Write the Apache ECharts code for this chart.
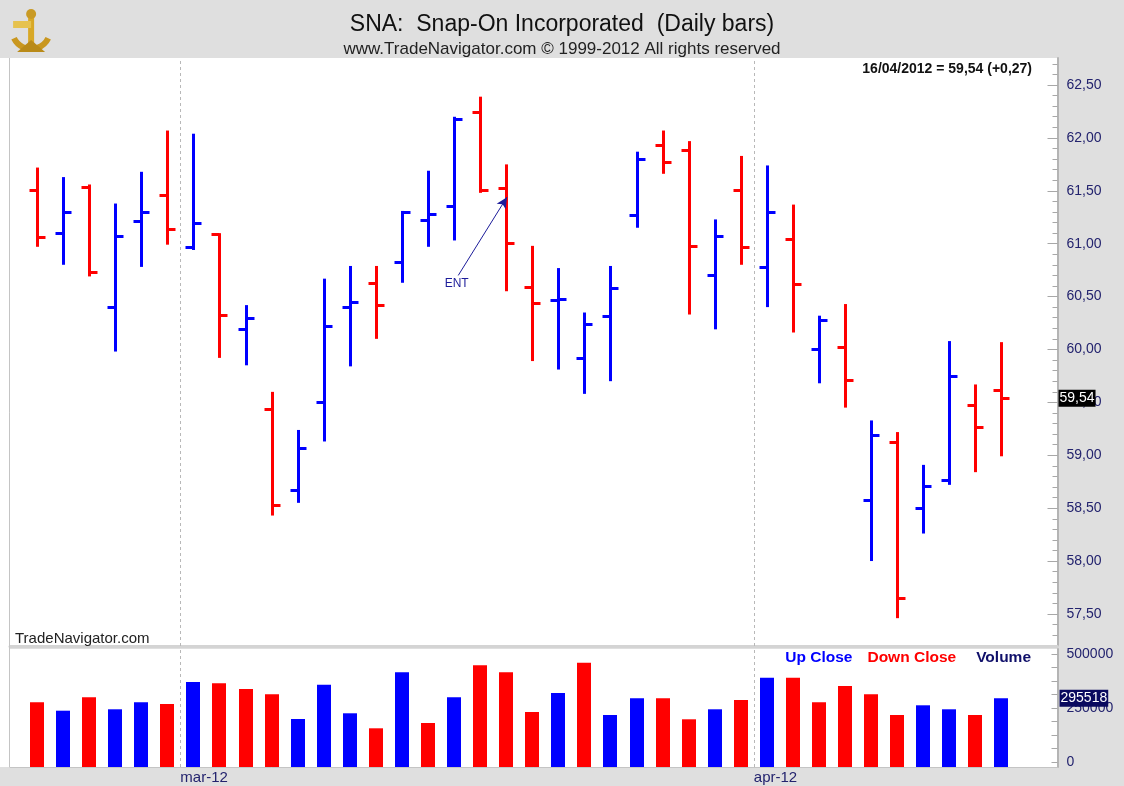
<!DOCTYPE html>
<html>
<head>
<meta charset="utf-8">
<title>SNA Daily bars</title>
<script src="https://cdn.jsdelivr.net/npm/echarts@6/dist/echarts.min.js"></script>
<style>
  html, body { margin: 0; padding: 0; background: #dfdfdf; }
  #chart { width: 1124px; height: 786px; }
</style>
</head>
<body>
<div id="chart"></div>
<script>
// trading days on the chart
const dates = [
  '22/02/2012', '23/02/2012', '24/02/2012', '27/02/2012', '28/02/2012', '29/02/2012',
  '01/03/2012', '02/03/2012', '05/03/2012', '06/03/2012', '07/03/2012', '08/03/2012', '09/03/2012',
  '12/03/2012', '13/03/2012', '14/03/2012', '15/03/2012', '16/03/2012',
  '19/03/2012', '20/03/2012', '21/03/2012', '22/03/2012', '23/03/2012',
  '26/03/2012', '27/03/2012', '28/03/2012', '29/03/2012', '30/03/2012',
  '02/04/2012', '03/04/2012', '04/04/2012', '05/04/2012',
  '09/04/2012', '10/04/2012', '11/04/2012', '12/04/2012', '13/04/2012', '16/04/2012'
];
const openPrices = [
  61.51, 61.10, 61.54, 60.40, 61.21, 61.46,
  60.97, 61.09, 60.19, 59.44, 58.67, 59.50, 60.40,
  60.63, 60.83, 61.22, 61.36, 62.24,
  61.53, 60.59, 60.47, 59.92, 60.32,
  61.27, 61.93, 61.89, 60.70, 61.51,
  60.78, 61.04, 60.00, 60.02,
  58.58, 59.13, 58.50, 58.77, 59.48, 59.62
];
const highPrices = [
  61.71, 61.62, 61.55, 61.37, 61.67, 62.06,
  62.03, 61.09, 60.41, 59.59, 59.23, 60.66, 60.78,
  60.78, 61.30, 61.68, 62.19, 62.38,
  61.74, 60.97, 60.76, 60.34, 60.78,
  61.86, 62.06, 61.96, 61.22, 61.82,
  61.73, 61.36, 60.31, 60.42,
  59.32, 59.21, 58.90, 60.07, 59.66, 60.06
];
const lowPrices = [
  60.98, 60.81, 60.70, 59.99, 60.79, 61.00,
  60.95, 59.93, 59.86, 58.44, 58.56, 59.14, 59.85,
  60.11, 60.64, 60.98, 61.04, 61.49,
  60.56, 59.90, 59.82, 59.59, 59.71,
  61.16, 61.67, 60.34, 60.20, 60.81,
  60.41, 60.17, 59.69, 59.46,
  58.01, 57.47, 58.27, 58.73, 58.85, 59.00
];
const closePrices = [
  61.06, 61.30, 60.73, 61.07, 61.30, 61.14,
  61.20, 60.33, 60.30, 58.53, 59.07, 60.22, 60.45,
  60.42, 61.30, 61.28, 62.18, 61.51,
  61.01, 60.44, 60.48, 60.24, 60.58,
  61.80, 61.77, 60.98, 61.07, 60.97,
  61.30, 60.62, 60.28, 59.71,
  59.19, 57.65, 58.71, 59.75, 59.27, 59.54
];
const volumes = [
  276400, 237500, 299500, 244000, 276400, 268500,
  370400, 364300, 338000, 313400, 199100, 357900, 225500,
  156000, 415300, 180600, 299500, 447700,
  415300, 231500, 319400, 459700, 217600,
  294900, 294900, 197700, 244000, 287000,
  390300, 390300, 276400, 351900,
  313400, 217600, 262500, 244000, 217600, 295518
];
const priceTicks = [57.5, 58.0, 58.5, 59.0, 59.5, 60.0, 60.5, 61.0, 61.5, 62.0, 62.5];
const volumeTicks = [0, 250000, 500000];
const monthNames = ['jan', 'feb', 'mar', 'apr', 'may', 'jun', 'jul', 'aug', 'sep', 'oct', 'nov', 'dec'];
// annotation "ENT" arrow (bar index, price)
const entFrom = [16.16, 60.70];
const entTo = [18.03, 61.44];

const UP = '#0000ff';
const DOWN = '#ff0000';
const NAVY = '#23236e';
const FONT = 'Liberation Sans, Arial, sans-serif';

const last = dates.length - 1;
const fmt2 = v => v.toFixed(2).replace('.', ',');

// month boundaries sit halfway between the last bar of a month and the first of the next
const monthStarts = [];
const monthLabels = [];
for (let i = 1; i < dates.length; i++) {
  const m0 = dates[i - 1].split('/')[1];
  const m1 = dates[i].split('/')[1];
  if (m0 !== m1) {
    const parts = dates[i].split('/');
    monthStarts.push(i - 0.5);
    monthLabels.push(monthNames[+parts[1] - 1] + '-' + parts[2].slice(2));
  }
}

const ohlcData = dates.map((d, i) => [i, openPrices[i], highPrices[i], lowPrices[i], closePrices[i]]);
const volData = volumes.map((v, i) => {
  const ref = i === 0 ? openPrices[0] : closePrices[i - 1];
  return [i, v, closePrices[i] >= ref ? 1 : -1];
});

const minorPriceTicks = [];
for (let k = 573; k <= 627; k++) minorPriceTicks.push(k / 10);
const volMinorTicks = [];
for (let k = 0; k <= 8; k++) volMinorTicks.push(k * 62500);

const xMin = -1.036;
const xMax = 39.15;
const priceMin = 57.1975;
const priceMax = 62.755;
const volMin = -23150;
const volMax = 523100;

const change = closePrices[last] - closePrices[last - 1];
const headerText = dates[last] + ' = ' + fmt2(closePrices[last]) + ' (' + (change >= 0 ? '+' : '') + fmt2(change) + ')';

function renderOhlc(params, api) {
  const i = api.value(0);
  const o = api.coord([i, api.value(1)]);
  const h = api.coord([i, api.value(2)]);
  const l = api.coord([i, api.value(3)]);
  const c = api.coord([i, api.value(4)]);
  const color = api.value(4) >= api.value(1) ? UP : DOWN;
  const x = Math.round(h[0]) + 0.5;
  const st = { stroke: color, lineWidth: 3 };
  return {
    type: 'group',
    children: [
      { type: 'line', shape: { x1: x, y1: h[1] - 1, x2: x, y2: l[1] + 1 }, style: st },
      { type: 'line', shape: { x1: x - 8, y1: Math.round(o[1]) + 0.5, x2: x, y2: Math.round(o[1]) + 0.5 }, style: st },
      { type: 'line', shape: { x1: x, y1: Math.round(c[1]) + 0.5, x2: x + 8, y2: Math.round(c[1]) + 0.5 }, style: st }
    ]
  };
}

function renderVolume(params, api) {
  const i = api.value(0);
  const top = api.coord([i, api.value(1)]);
  const bottom = api.coord([i, volMin]);
  const w = 14;
  return {
    type: 'rect',
    shape: { x: Math.round(top[0] - w / 2), y: top[1], width: w, height: bottom[1] - top[1] },
    style: { fill: api.value(2) > 0 ? UP : DOWN }
  };
}

const monthLine = {
  silent: true,
  symbol: 'none',
  label: { show: false },
  lineStyle: { color: '#b8b8b8', type: [3, 3], width: 1 },
  data: monthStarts.map(v => ({ xAxis: v }))
};

const noLine = { show: false, onZero: false };

const chart = echarts.init(document.getElementById('chart'));
chart.setOption({
  animation: false,
  backgroundColor: '#dfdfdf',
  textStyle: { fontFamily: FONT },
  title: [
    {
      text: 'SNA:  Snap-On Incorporated  (Daily bars)',
      subtext: 'www.TradeNavigator.com © 1999-2012 All rights reserved',
      left: 'center',
      top: 8,
      itemGap: 5,
      textStyle: { fontFamily: FONT, fontSize: 23, fontWeight: 'normal', color: '#111' },
      subtextStyle: { fontFamily: FONT, fontSize: 17, color: '#222' }
    },
    {
      text: headerText,
      right: 87,
      top: 57,
      textStyle: { fontFamily: FONT, fontSize: 14, fontWeight: 'bold', color: '#111' }
    },
    {
      text: 'TradeNavigator.com',
      left: 10,
      top: 626,
      textStyle: { fontFamily: FONT, fontSize: 15, fontWeight: 'normal', color: '#222' }
    },
    {
      text: '{u|Up Close}   {d|Down Close}    {v|Volume}',
      right: 88,
      top: 644,
      textStyle: {
        fontFamily: FONT,
        rich: {
          u: { fontFamily: FONT, fontSize: 15.5, fontWeight: 'bold', color: UP },
          d: { fontFamily: FONT, fontSize: 15.5, fontWeight: 'bold', color: DOWN },
          v: { fontFamily: FONT, fontSize: 15.5, fontWeight: 'bold', color: '#10106a' }
        }
      }
    }
  ],
  graphic: [
    { type: 'rect', left: 0, top: 58, shape: { width: 9, height: 709 }, style: { fill: '#ffffff' }, z: 0 },
    { type: 'line', shape: { x1: 9.5, y1: 58, x2: 9.5, y2: 767 }, style: { stroke: '#c4c4c4', lineWidth: 1 }, z: 10 },
    {
      type: 'group',
      left: 11,
      top: 9,
      children: [
        { type: 'arc', shape: { cx: 24, cy: 22, r: 19, startAngle: 0.45, endAngle: Math.PI - 0.45 }, style: { stroke: '#c9971f', lineWidth: 6, fill: null } },
        { type: 'rect', shape: { x: 21, y: 4, width: 6, height: 36 }, style: { fill: '#d8a826' } },
        { type: 'rect', shape: { x: 6, y: 13, width: 18, height: 7 }, style: { fill: '#e6c24e' } },
        { type: 'circle', shape: { cx: 24, cy: 6, r: 5 }, style: { fill: '#c99a24' } },
        { type: 'polygon', shape: { points: [[10, 44], [38, 44], [24, 32]] }, style: { fill: '#b98a18' } }
      ]
    }
  ],
  grid: [
    { left: 10, right: 66.5, top: 58, height: 588, show: true, backgroundColor: '#ffffff', borderWidth: 0 },
    { left: 10, right: 66.5, top: 649, height: 118, show: true, backgroundColor: '#ffffff', borderWidth: 0 }
  ],
  xAxis: [
    {
      type: 'value', gridIndex: 0, min: xMin, max: xMax,
      axisLine: { show: true, onZero: false, lineStyle: { color: '#d4d4d4', width: 3 } },
      axisTick: { show: false }, axisLabel: { show: false }, splitLine: { show: false }
    },
    {
      type: 'value', gridIndex: 1, min: xMin, max: xMax,
      axisLine: { show: true, onZero: false, lineStyle: { color: '#c4c4c4', width: 1 } },
      axisTick: { show: false },
      splitLine: { show: false },
      axisLabel: {
        customValues: monthStarts,
        formatter: v => monthLabels[monthStarts.indexOf(v)] || '',
        align: 'left',
        margin: 3,
        color: NAVY,
        fontSize: 15,
        fontFamily: FONT
      }
    }
  ],
  yAxis: [
    {
      type: 'value', gridIndex: 0, position: 'right', min: priceMin, max: priceMax,
      axisLine: { show: true, onZero: false, lineStyle: { color: '#b4b4b4', width: 2 } },
      axisTick: { show: true, inside: true, length: 10, customValues: priceTicks, lineStyle: { color: '#a8a8a8' } },
      axisLabel: { customValues: priceTicks, formatter: fmt2, color: NAVY, fontSize: 14, margin: 9, fontFamily: FONT },
      splitLine: { show: false }
    },
    {
      type: 'value', gridIndex: 0, position: 'right', min: priceMin, max: priceMax,
      axisLine: noLine,
      axisTick: { show: true, inside: true, length: 5, customValues: minorPriceTicks, lineStyle: { color: '#a8a8a8' } },
      axisLabel: { show: false },
      splitLine: { show: false }
    },
    {
      type: 'value', gridIndex: 0, position: 'right', min: priceMin, max: priceMax,
      axisLine: noLine, axisTick: { show: false }, splitLine: { show: false },
      axisLabel: {
        customValues: [closePrices[last]], formatter: fmt2,
        color: '#ffffff', backgroundColor: '#000000', padding: [2, 1, 1, 1],
        fontSize: 14, margin: 1, fontFamily: FONT
      }
    },
    {
      type: 'value', gridIndex: 1, position: 'right', min: volMin, max: volMax,
      axisLine: { show: true, onZero: false, lineStyle: { color: '#b4b4b4', width: 2 } },
      axisTick: { show: true, inside: true, length: 6, customValues: volMinorTicks, lineStyle: { color: '#a8a8a8' } },
      axisLabel: { customValues: volumeTicks, formatter: v => String(v), color: NAVY, fontSize: 14, margin: 9, fontFamily: FONT },
      splitLine: { show: false }
    },
    {
      type: 'value', gridIndex: 1, position: 'right', min: volMin, max: volMax,
      axisLine: noLine, axisTick: { show: false }, splitLine: { show: false },
      axisLabel: {
        customValues: [volumes[last]], formatter: v => String(v),
        color: '#ffffff', backgroundColor: '#0a0a5e', padding: [2, 1, 1, 1],
        fontSize: 14, margin: 2, fontFamily: FONT
      }
    }
  ],
  series: [
    {
      type: 'custom',
      name: 'SNA',
      xAxisIndex: 0,
      yAxisIndex: 0,
      renderItem: renderOhlc,
      encode: { x: 0, y: [1, 2, 3, 4] },
      data: ohlcData,
      z: 3,
      markLine: monthLine
    },
    {
      type: 'custom',
      name: 'ENT',
      xAxisIndex: 0,
      yAxisIndex: 0,
      renderItem: () => ({ type: 'group', children: [] }),
      data: [entFrom],
      z: 4,
      markLine: {
        silent: true,
        symbol: ['none', 'arrow'],
        symbolSize: [8, 11],
        lineStyle: { color: '#1c1c9a', width: 1, type: 'solid' },
        label: {
          show: true, position: 'start', distance: 3, formatter: 'ENT',
          color: '#1c1c9a', fontSize: 12, fontFamily: FONT
        },
        data: [[{ coord: entFrom }, { coord: entTo }]]
      }
    },
    {
      type: 'custom',
      name: 'Volume',
      xAxisIndex: 1,
      yAxisIndex: 3,
      renderItem: renderVolume,
      encode: { x: 0, y: 1 },
      data: volData,
      markLine: monthLine
    }
  ]
});
</script>
</body>
</html>
